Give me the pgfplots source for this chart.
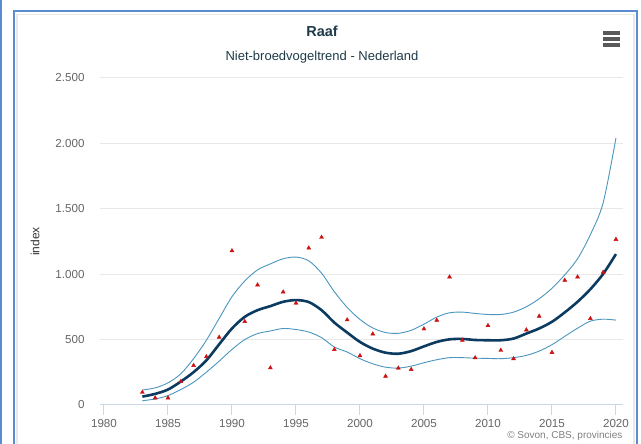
\documentclass[border=0pt]{standalone}
\usepackage{pgfplots}
\pgfplotsset{compat=1.18}
\usepackage{fontspec}
\setmainfont{Liberation Sans}
\definecolor{trend}{HTML}{0B3B60}
\definecolor{band}{HTML}{4A96BE}
\definecolor{pts}{HTML}{CC1111}
\definecolor{frame}{HTML}{5B8BD0}
\definecolor{axisc}{HTML}{CCD6EB}
\definecolor{tickc}{HTML}{666666}
\definecolor{titlec}{HTML}{1E3A48}
\begin{document}
\begin{tikzpicture}[x=1pt,y=1pt]
\path[use as bounding box] (0,0) rectangle (641,444);
\fill[white] (0,0) rectangle (641,444);
\draw[frame, line width=1.5] (1,0) -- (1,444);
\draw[gray!18, line width=1.2] (17,0) -- (17,429.5) -- (634,429.5) -- (634,0);
\draw[frame, line width=2] (14,-2) -- (14,433) -- (637,433) -- (637,-2);
\node[font=\fontsize{14.5}{17}\selectfont\bfseries, text=titlec] at (322,413) {Raaf};
\node[font=\fontsize{13}{15}\selectfont, text=titlec] at (322,387) {Niet-broedvogeltrend - Nederland};
\node[font=\fontsize{10}{12}\selectfont, text=gray, anchor=east] at (626,8) {© Sovon, CBS, provincies};
\foreach \yy in {411,405,399} {\draw[black!65, line width=3.4] (603,\yy) -- (620,\yy);}
\begin{axis}[
  at={(100pt,39pt)}, anchor=south west, scale only axis,
  width=523pt, height=327pt,
  xmin=1979.69, xmax=2020.55, ymin=0, ymax=2500,
  axis lines*=left,
  x axis line style={draw=axisc, line width=1},
  y axis line style={draw=none},
  xtick={1980,1985,...,2020},
  xticklabels={1980,1985,1990,1995,2000,2005,2010,2015,2020},
  ytick={0,500,1000,1500,2000,2500},
  yticklabels={0,500,1.000,1.500,2.000,2.500},
  xtick align=outside, major tick length=10pt,
  xtick style={draw=axisc, line width=1},
  ytick style={draw=none},
  ymajorgrids, grid style={draw=gray!18, line width=1},
  tick label style={font=\fontsize{11.6}{13}\selectfont, text=tickc},
  yticklabel style={xshift=-12pt},
  xticklabel style={yshift=-1pt},
  ylabel={index},
  ylabel style={at={(axis description cs:-0.124,0.5)}, anchor=center, font=\fontsize{12}{14}\selectfont, text=black!80},
  clip=false,
]
\addplot[band, line width=0.9, smooth] coordinates {
(1983,115)(1984,131)(1985,169)(1986,238)(1987,354)(1988,495)(1989,662)(1990,828)(1991,948)(1992,1033)(1993,1079)(1994,1118)(1995,1131)(1996,1102)(1997,1008)(1998,866)(1999,746)(2000,654)(2001,589)(2002,554)(2003,548)(2004,571)(2005,618)(2006,672)(2007,705)(2008,710)(2009,700)(2010,692)(2011,692)(2012,710)(2013,751)(2014,812)(2015,892)(2016,995)(2017,1118)(2018,1302)(2019,1546)(2020,2041)};
\addplot[band, line width=0.9, smooth] coordinates {
(1983,33)(1984,46)(1985,72)(1986,118)(1987,174)(1988,251)(1989,335)(1990,425)(1991,500)(1992,546)(1993,566)(1994,585)(1995,577)(1996,558)(1997,515)(1998,443)(1999,405)(2000,354)(2001,315)(2002,289)(2003,282)(2004,297)(2005,323)(2006,346)(2007,362)(2008,362)(2009,358)(2010,356)(2011,354)(2012,362)(2013,379)(2014,412)(2015,461)(2016,525)(2017,587)(2018,641)(2019,656)(2020,649)};
\addplot[trend, line width=2.6, smooth] coordinates {
(1983,64)(1984,85)(1985,118)(1986,179)(1987,251)(1988,341)(1989,464)(1990,585)(1991,674)(1992,725)(1993,756)(1994,789)(1995,802)(1996,787)(1997,725)(1998,630)(1999,554)(2000,482)(2001,431)(2002,400)(2003,392)(2004,412)(2005,448)(2006,482)(2007,502)(2008,505)(2009,497)(2010,495)(2011,495)(2012,508)(2013,546)(2014,585)(2015,636)(2016,708)(2017,789)(2018,885)(2019,1002)(2020,1154)};
\addplot[only marks, mark=triangle*, mark size=2.3, color=pts] coordinates {
(1983,97)(1984,54)(1985,54)(1986,179)(1987,302)(1988,369)(1989,518)(1990,1179)(1991,638)(1992,918)(1993,284)(1994,864)(1995,779)(1996,1200)(1997,1282)(1998,424)(1999,651)(2000,377)(2001,543)(2002,220)(2003,282)(2004,272)(2005,582)(2006,648)(2007,979)(2008,495)(2009,361)(2010,607)(2011,418)(2012,354)(2013,574)(2014,679)(2015,402)(2016,954)(2017,979)(2018,661)(2019,1015)(2020,1266)};
\end{axis}
\end{tikzpicture}
\end{document}
